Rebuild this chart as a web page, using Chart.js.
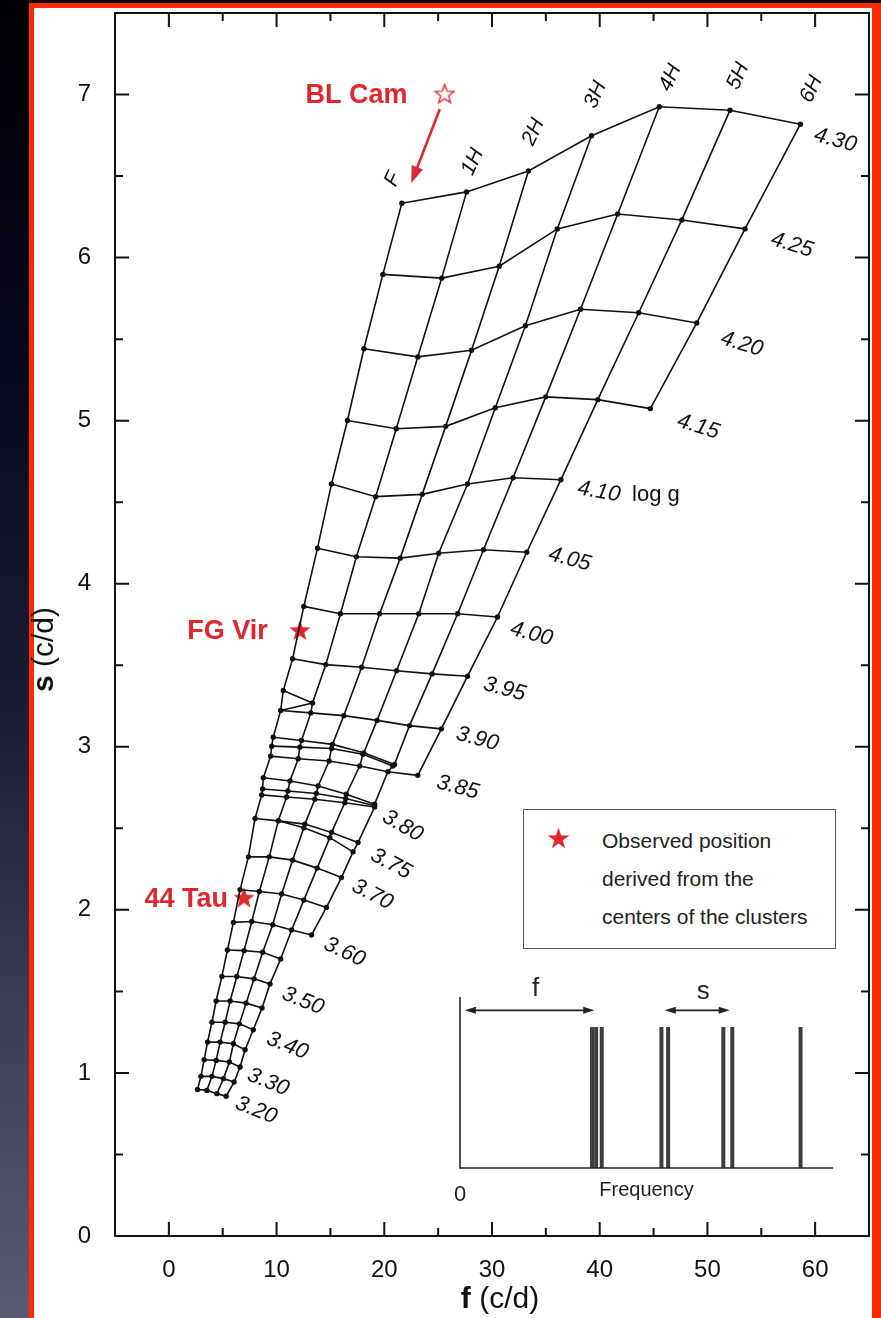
<!DOCTYPE html>
<html>
<head>
<meta charset="utf-8">
<script src="https://cdn.jsdelivr.net/npm/chart.js@4.4.3/dist/chart.umd.min.js"></script>
<style>
  html, body { margin: 0; padding: 0; }
  body {
    width: 881px; height: 1318px; overflow: hidden; position: relative;
    background: linear-gradient(to bottom, #000004 0%, #06061a 25%, #1d1d36 55%, #44445e 82%, #5a5a74 100%);
  }
  #frame {
    position: absolute; left: 29px; top: 3px; width: 852px; height: 1330px;
    background: #fff; box-sizing: border-box;
    border-left: 5px solid #ff2a00; border-top: 5px solid #ff2a00; border-right: 9px solid #ff2a00;
  }
  #main { position: absolute; left: 0; top: 0; }
  #inset { position: absolute; left: 440px; top: 975px; }
  #legendBox {
    position: absolute; left: 523px; top: 809px; width: 313px; height: 140px;
    border: 1.5px solid #5a5a5a; box-sizing: border-box; background: #fff;
    font-family: "Liberation Sans", Arial, sans-serif; font-size: 21px; color: #222;
  }
  #legendBox .star { position: absolute; left: 22px; top: 10px; font-size: 28px; color: #e0262f; line-height: 38px; }
  #legendBox .lines { position: absolute; left: 78px; top: 12px; line-height: 38px; white-space: nowrap; }
</style>
</head>
<body>
<div id="frame"></div>
<canvas id="main" width="881" height="1318"></canvas>
<canvas id="inset" width="420" height="240"></canvas>
<div id="legendBox"><span class="star">★</span><div class="lines" id="legendLines"></div></div>
<script>
// ---- model grid: pulsation modes (columns) by log g tracks (rows) ----
const modeNames = ['F', '1H', '2H', '3H', '4H', '5H', '6H'];
const rowLabels = ['4.30', '4.25', '4.20', '4.15', '4.10', '4.05', '4.00', '3.95', '', '3.90',
  '', '', '3.85', '', '', '3.80', '', '3.75', '3.70', '', '3.60', '', '3.50', '', '3.40', '',
  '3.30', '', '3.20'];

// frequency f (c/d) of each node, row by row
const nodeF = [
  [21.63, 27.64, 33.38, 39.24, 45.53, 52.10, 58.63],
  [19.87, 25.33, 30.67, 36.06, 41.67, 47.62, 53.49],
  [18.11, 23.11, 28.10, 33.10, 38.22, 43.62, 49.01],
  [16.58, 21.11, 25.70, 30.31, 34.99, 39.82, 44.70],
  [15.10, 19.20, 23.52, 27.73, 31.96, 36.40],
  [13.80, 17.41, 21.48, 25.05, 29.21, 33.23],
  [12.53, 15.93, 19.57, 23.20, 26.81, 30.51],
  [11.49, 14.57, 17.90, 21.14, 24.44, 27.73],
  [10.62, 13.34],
  [10.38, 13.18, 16.24, 19.33, 22.34, 25.30],
  [9.69, 12.32, 15.19, 18.09, 20.95],
  [9.55, 12.16, 15.10, 18.02, 20.80],
  [9.45, 12.01, 14.88, 17.72, 20.33, 23.11],
  [8.77, 11.24, 13.86, 16.48, 19.10],
  [8.70, 11.05, 13.69, 16.42, 19.10],
  [8.62, 10.93, 13.55, 16.33, 19.10],
  [8.00, 10.16, 12.63, 15.10, 17.56],
  [null, 10.16, 12.53, 14.94, 17.10],
  [7.38, 9.32, 11.49, 13.77, 16.02],
  [6.61, 8.40, 10.47, 12.53, 14.63],
  [5.99, 7.70, 9.64, 11.40, 13.25],
  [5.44, 6.98, 8.71, 10.38],
  [4.92, 6.31, 7.91, 9.39],
  [4.39, 5.69, 7.17, 8.65],
  [4.00, 5.23, 6.55, 7.84],
  [3.59, 4.76, 5.99, 7.08],
  [3.28, 4.39, 5.62, 6.61],
  [2.98, 4.00, 5.07, 6.06],
  [2.66, 3.53, 4.46, 5.32]
];

// spacing s (c/d) of each node, row by row
const nodeS = [
  [6.333, 6.403, 6.531, 6.747, 6.925, 6.904, 6.818],
  [5.897, 5.874, 5.947, 6.176, 6.267, 6.231, 6.176],
  [5.441, 5.391, 5.432, 5.582, 5.683, 5.662, 5.599],
  [5.001, 4.950, 4.965, 5.079, 5.146, 5.129, 5.074],
  [4.612, 4.534, 4.548, 4.612, 4.650, 4.638],
  [4.218, 4.165, 4.157, 4.187, 4.208, 4.193],
  [3.861, 3.816, 3.816, 3.816, 3.816, 3.796],
  [3.540, 3.504, 3.488, 3.466, 3.447, 3.433],
  [3.345, 3.269],
  [3.223, 3.208, 3.191, 3.162, 3.130, 3.110],
  [3.059, 3.039, 3.015, 2.963, 2.892],
  [3.004, 2.998, 2.990, 2.954, 2.882],
  [2.943, 2.927, 2.913, 2.882, 2.847, 2.825],
  [2.810, 2.790, 2.760, 2.709, 2.648],
  [2.741, 2.729, 2.714, 2.683, 2.638],
  [2.705, 2.692, 2.678, 2.657, 2.631],
  [2.560, 2.546, 2.526, 2.474, 2.413],
  [null, 2.546, 2.503, 2.443, 2.356],
  [2.325, 2.325, 2.305, 2.256, 2.198],
  [2.123, 2.113, 2.097, 2.060, 2.015],
  [1.923, 1.929, 1.909, 1.877, 1.846],
  [1.754, 1.750, 1.740, 1.699],
  [1.591, 1.591, 1.577, 1.546],
  [1.441, 1.441, 1.428, 1.398],
  [1.311, 1.311, 1.301, 1.265],
  [1.189, 1.189, 1.179, 1.142],
  [1.081, 1.077, 1.067, 1.036],
  [0.979, 0.979, 0.965, 0.944],
  [0.898, 0.893, 0.873, 0.857]
];

// short fold-back segment between the 3.95 and 3.90 tracks
const kinkF = [13.34, 10.38];
const kinkS = [3.269, 3.223];

// observed stars
const starNames = ['BL Cam', 'FG Vir', '44 Tau'];
const starF = [25.6, 12.16, 6.98];
const starS = [7.00, 3.71, 2.07];
const starOpen = [true, false, false];
const blCamArrowF = [25.15, 22.5];
const blCamArrowS = [6.91, 6.457];

const xTickVals = [0, 10, 20, 30, 40, 50, 60];
const yTickVals = [0, 1, 2, 3, 4, 5, 6, 7];

// inset: schematic frequency spectrum
const specLineFreq = [35.4, 36.5, 38.0, 54.0, 55.8, 70.6, 73.0, 91.3];
const specLineHeight = [0.825, 0.825, 0.825, 0.825, 0.825, 0.825, 0.825, 0.825];
const fArrowFreq = [1.3, 36.0];
const sArrowFreq = [54.9, 72.3];
const legendLines = ['Observed position', 'derived from the', 'centers of the clusters'];

// ---- styling ----
const RED = '#e0262f';
const INK = '#111';
const FONT = '"Liberation Sans", Arial, sans-serif';
// pixel offset [dx, dy, rotation deg] of each log g label from its track end
const loggLabelPlace = {
  '4.30': [35, 16, 15], '4.25': [47, 16, 17], '4.20': [45, 21, 17], '4.15': [48, 18, 17],
  '4.10': [38, 12, 10], '4.05': [43, 7, 15], '4.00': [34, 17, 15], '3.95': [37, 13, 15],
  '3.90': [36, 10, 15], '3.85': [40, 12, 15], '3.80': [28, 19, 30], '3.75': [38, 12, 28],
  '3.70': [31, 17, 27], '3.60': [33, 17, 25], '3.50': [33, 17, 22], '3.40': [34, 16, 22],
  '3.30': [28, 15, 22], '3.20': [30, 14, 22]
};
const modeLabelPlace = [[-9, -24], [6, -30], [5, -39], [4, -41], [11, -29], [8, -34], [11, -35]];
const starLabelShift = [-37, -32, -16];

document.getElementById('legendLines').innerHTML = legendLines.join('<br>');

function starImage(r, open) {
  const c = document.createElement('canvas');
  const s = Math.ceil(r * 2 + 4);
  c.width = s; c.height = s;
  const g = c.getContext('2d');
  g.beginPath();
  for (let i = 0; i < 10; i++) {
    const a = -Math.PI / 2 + i * Math.PI / 5;
    const rr = i % 2 ? r * 0.42 : r;
    g.lineTo(s / 2 + rr * Math.cos(a), s / 2 + rr * Math.sin(a));
  }
  g.closePath();
  if (open) { g.strokeStyle = RED; g.lineWidth = 1.4; g.stroke(); }
  else { g.fillStyle = RED; g.fill(); }
  return c;
}

function arrowHead(ctx, x0, y0, x1, y1, len, half) {
  const a = Math.atan2(y1 - y0, x1 - x0);
  ctx.beginPath();
  ctx.moveTo(x1, y1);
  ctx.lineTo(x1 - len * Math.cos(a) + half * Math.sin(a), y1 - len * Math.sin(a) - half * Math.cos(a));
  ctx.lineTo(x1 - len * Math.cos(a) - half * Math.sin(a), y1 - len * Math.sin(a) + half * Math.cos(a));
  ctx.closePath();
  ctx.fill();
}

// ---- datasets ----
const colSets = modeNames.map((_, m) => ({
  data: nodeF.map((fs, r) => fs[m] == null ? null : { x: fs[m], y: nodeS[r][m] }).filter(Boolean),
  showLine: true, borderColor: INK, borderWidth: 1.6, pointRadius: 0
}));
const rowSets = nodeF.map((fs, r) => ({
  data: fs.map((f, m) => f == null ? null : { x: f, y: nodeS[r][m] }).filter(Boolean),
  showLine: true, borderColor: INK, borderWidth: 1.6,
  pointRadius: 2.7, pointBackgroundColor: INK, pointBorderWidth: 0
}));
const kinkSet = {
  data: kinkF.map((f, i) => ({ x: f, y: kinkS[i] })),
  showLine: true, borderColor: INK, borderWidth: 1.6, pointRadius: 0
};
const starSets = starNames.map((n, i) => ({
  data: [{ x: starF[i], y: starS[i] }],
  pointStyle: starImage(starOpen[i] ? 10 : 11, starOpen[i]),
  pointRadius: 11
}));

// frame, inward ticks, labels and axis titles of the main panel
const mainDecor = {
  id: 'mainDecor',
  afterDatasetsDraw(chart) {
    const { ctx, chartArea: a, scales: { x, y } } = chart;
    ctx.save();
    ctx.strokeStyle = INK;
    ctx.lineWidth = 2;
    ctx.strokeRect(a.left, a.top, a.right - a.left, a.bottom - a.top);

    const tick = (vals, len) => {
      ctx.beginPath();
      vals.forEach(v => {
        const px = x.getPixelForValue(v);
        ctx.moveTo(px, a.bottom); ctx.lineTo(px, a.bottom - len);
        ctx.moveTo(px, a.top); ctx.lineTo(px, a.top + len);
      });
      ctx.stroke();
    };
    const tickY = (vals, len) => {
      ctx.beginPath();
      vals.forEach(v => {
        const py = y.getPixelForValue(v);
        ctx.moveTo(a.left, py); ctx.lineTo(a.left + len, py);
        ctx.moveTo(a.right, py); ctx.lineTo(a.right - len, py);
      });
      ctx.stroke();
    };
    tick(xTickVals, 14);
    tick(xTickVals.map(v => v + 5).filter(v => v < x.max), 8);
    tickY(yTickVals, 14);
    tickY(yTickVals.map(v => v + 0.5).filter(v => v < y.max), 8);

    // mode names above the top track
    ctx.fillStyle = INK;
    ctx.textAlign = 'center';
    ctx.textBaseline = 'middle';
    ctx.font = 'italic 21px ' + FONT;
    modeNames.forEach((name, m) => {
      const px = x.getPixelForValue(nodeF[0][m]) + modeLabelPlace[m][0];
      const py = y.getPixelForValue(nodeS[0][m]) + modeLabelPlace[m][1];
      ctx.save();
      ctx.translate(px, py);
      ctx.rotate(-65 * Math.PI / 180);
      ctx.fillText(name, 0, 0);
      ctx.restore();
    });

    // log g labels at the end of each track
    ctx.font = 'italic 22px ' + FONT;
    rowLabels.forEach((lab, r) => {
      if (!lab) return;
      const fs = nodeF[r], last = fs.length - 1;
      const [dx, dy, rot] = loggLabelPlace[lab];
      const px = x.getPixelForValue(fs[last]) + dx;
      const py = y.getPixelForValue(nodeS[r][last]) + dy;
      ctx.save();
      ctx.translate(px, py);
      ctx.rotate(rot * Math.PI / 180);
      ctx.fillText(lab, 0, 0);
      ctx.restore();
      if (lab === '4.10') {
        ctx.font = '22px ' + FONT;
        ctx.fillText('log g', px + 57, py + 3);
        ctx.font = 'italic 22px ' + FONT;
      }
    });

    // star names and the BL Cam pointer
    ctx.fillStyle = RED;
    ctx.font = 'bold 27px ' + FONT;
    ctx.textAlign = 'right';
    starNames.forEach((n, i) => {
      ctx.fillText(n, x.getPixelForValue(starF[i]) + starLabelShift[i], y.getPixelForValue(starS[i]) + 1);
    });
    const ax0 = x.getPixelForValue(blCamArrowF[0]), ay0 = y.getPixelForValue(blCamArrowS[0]);
    const ax1 = x.getPixelForValue(blCamArrowF[1]), ay1 = y.getPixelForValue(blCamArrowS[1]);
    ctx.strokeStyle = RED;
    ctx.lineWidth = 2.6;
    ctx.beginPath();
    ctx.moveTo(ax0, ay0);
    ctx.lineTo(ax1 + (ax0 - ax1) * 0.15, ay1 + (ay0 - ay1) * 0.15);
    ctx.stroke();
    arrowHead(ctx, ax0, ay0, ax1, ay1, 17, 6);

    // axis titles: bold symbol followed by the unit
    ctx.fillStyle = INK;
    ctx.textAlign = 'left';
    const title = (sym, cx, cy, rot) => {
      ctx.save();
      ctx.translate(cx, cy);
      ctx.rotate(rot);
      ctx.font = 'bold 30px ' + FONT;
      const w1 = ctx.measureText(sym).width;
      ctx.font = '30px ' + FONT;
      const w2 = ctx.measureText(' (c/d)').width;
      ctx.font = 'bold 30px ' + FONT;
      ctx.fillText(sym, -(w1 + w2) / 2, 0);
      ctx.font = '30px ' + FONT;
      ctx.fillText(' (c/d)', -(w1 + w2) / 2 + w1, 0);
      ctx.restore();
    };
    title('f', (a.left + a.right) / 2 + 8, a.bottom + 64, 0);
    title('s', a.left - 70, (a.top + a.bottom) / 2 + 25, -Math.PI / 2);
    ctx.restore();
  }
};

new Chart(document.getElementById('main'), {
  type: 'scatter',
  data: { datasets: [...colSets, kinkSet, ...rowSets, ...starSets] },
  options: {
    responsive: false,
    animation: false,
    devicePixelRatio: 1,
    layout: { padding: { left: 0, top: 13, right: 11, bottom: 0 } },
    plugins: { legend: { display: false }, tooltip: { enabled: false } },
    scales: {
      x: {
        type: 'linear', min: -5, max: 65,
        grid: { display: false },
        border: { display: false },
        ticks: { color: INK, font: { family: FONT, size: 24 }, padding: 12 },
        afterBuildTicks: s => { s.ticks = xTickVals.map(v => ({ value: v })); },
        afterFit: s => { s.height = 82; s.paddingLeft = 0; s.paddingRight = 0; }
      },
      y: {
        type: 'linear', min: 0, max: 7.5,
        grid: { display: false },
        border: { display: false },
        ticks: { color: INK, font: { family: FONT, size: 24 }, padding: 16 },
        afterBuildTicks: s => { s.ticks = yTickVals.map(v => ({ value: v })); },
        afterFit: s => { s.width = 115; s.paddingTop = 0; s.paddingBottom = 0; }
      }
    }
  },
  plugins: [mainDecor]
});

// ---- inset spectrum ----
const specSets = specLineFreq.map((f, i) => ({
  data: [{ x: f, y: 0 }, { x: f, y: specLineHeight[i] }],
  showLine: true, borderColor: '#3d3d3d', borderWidth: 4, pointRadius: 0
}));

const insetDecor = {
  id: 'insetDecor',
  afterDatasetsDraw(chart) {
    const { ctx, chartArea: a, scales: { x, y } } = chart;
    ctx.save();
    ctx.strokeStyle = '#222';
    ctx.fillStyle = '#222';
    ctx.lineWidth = 1.6;
    ctx.beginPath();
    ctx.moveTo(a.left, a.top); ctx.lineTo(a.left, a.bottom); ctx.lineTo(a.right, a.bottom);
    ctx.stroke();
    const lvl = y.getPixelForValue(0.922);
    const dbl = (f0, f1) => {
      const p0 = x.getPixelForValue(f0), p1 = x.getPixelForValue(f1);
      ctx.beginPath(); ctx.moveTo(p0 + 4, lvl); ctx.lineTo(p1 - 4, lvl); ctx.stroke();
      arrowHead(ctx, p1, lvl, p0, lvl, 11, 3.5);
      arrowHead(ctx, p0, lvl, p1, lvl, 11, 3.5);
      return (p0 + p1) / 2;
    };
    ctx.textAlign = 'center';
    ctx.textBaseline = 'middle';
    ctx.font = '26px ' + FONT;
    const fx = dbl(fArrowFreq[0], fArrowFreq[1]);
    ctx.fillText('f', fx + 6, lvl - 22);
    const sx = dbl(sArrowFreq[0], sArrowFreq[1]);
    ctx.fillText('s', sx + 6, lvl - 19);
    ctx.font = '20px ' + FONT;
    ctx.fillText('Frequency', (a.left + a.right) / 2, a.bottom + 22);
    ctx.restore();
  }
};

new Chart(document.getElementById('inset'), {
  type: 'scatter',
  data: { datasets: specSets },
  options: {
    responsive: false,
    animation: false,
    devicePixelRatio: 1,
    layout: { padding: { left: 20, top: 22, right: 27, bottom: 0 } },
    plugins: { legend: { display: false }, tooltip: { enabled: false } },
    scales: {
      x: {
        type: 'linear', min: 0, max: 100,
        grid: { display: false }, border: { display: false },
        ticks: { color: '#222', font: { family: FONT, size: 22 }, padding: 6 },
        afterBuildTicks: s => { s.ticks = [{ value: 0 }]; },
        afterFit: s => { s.height = 47; s.paddingLeft = 0; s.paddingRight = 0; }
      },
      y: {
        type: 'linear', min: 0, max: 1,
        grid: { display: false }, border: { display: false },
        ticks: { display: false },
        afterFit: s => { s.width = 0; s.paddingTop = 0; s.paddingBottom = 0; }
      }
    }
  },
  plugins: [insetDecor]
});
</script>
</body>
</html>
